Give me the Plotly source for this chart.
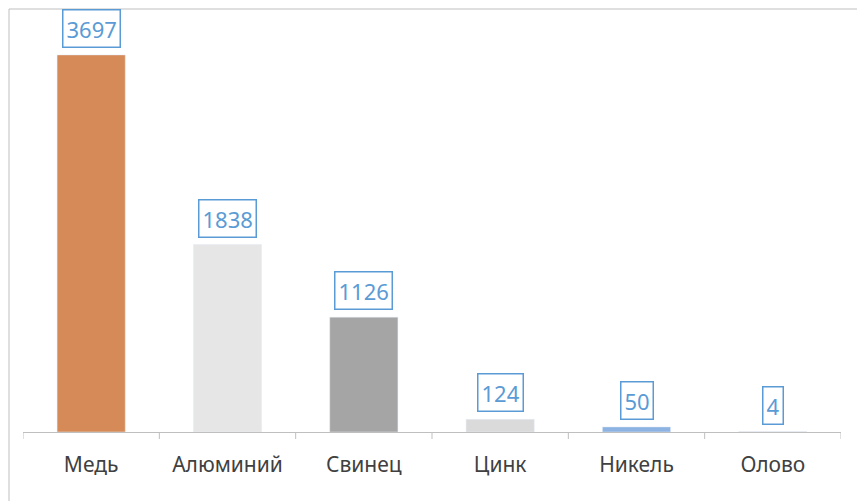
import plotly.graph_objects as go

categories = ["Медь", "Алюминий", "Свинец", "Цинк", "Никель", "Олово"]
values = [3697, 1838, 1126, 124, 50, 4]
colors = ["#D68A58", "#E6E6E6", "#A5A5A5", "#DADADA", "#8DB3E2", "#DADADA"]

x = list(range(len(categories)))
fig = go.Figure(go.Bar(x=x, y=values, marker_color=colors, width=0.5, hoverinfo="skip"))

for xi, v in zip(x, values):
    fig.add_annotation(x=xi, y=v, text=str(v), showarrow=False, yanchor="bottom", yshift=7,
                       font=dict(size=22, color="#5B9BD5", family="Noto Sans"),
                       bordercolor="#5B9BD5", borderwidth=1.5, borderpad=3, bgcolor="white")

shapes = []
for b in [i - 0.5 for i in range(len(categories) + 1)]:
    shapes.append(dict(type="line", xref="x", yref="paper", x0=b, x1=b, y0=0, y1=-7/408,
                       line=dict(color="#BFBFBF", width=1)))
shapes.append(dict(type="rect", xref="paper", yref="paper", x0=-14/818, x1=849/818,
                   y0=-76/408, y1=423/408, line=dict(color="#BFBFBF", width=1)))

fig.update_layout(
    width=865, height=501, margin=dict(l=15, r=32, t=16, b=77),
    plot_bgcolor="white", paper_bgcolor="white", showlegend=False, shapes=shapes,
    xaxis=dict(tickmode="array", tickvals=x, ticktext=categories, range=[-0.5, 5.5],
               showline=True, linecolor="#BFBFBF", showgrid=False, ticks="",
               ticklabelstandoff=14,
               tickfont=dict(size=21, color="#404040", family="Noto Sans")),
    yaxis=dict(range=[0, 4000], visible=False, showgrid=False),
)
fig.write_html("out.html")
